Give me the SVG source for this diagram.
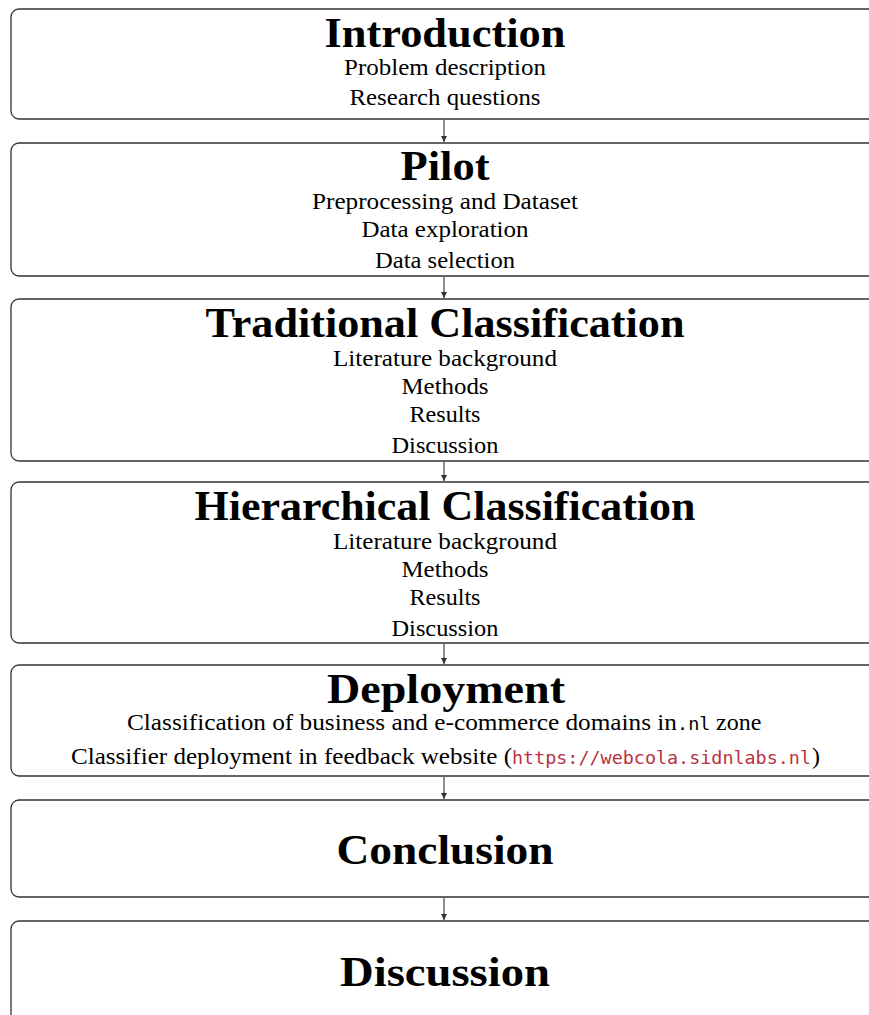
<svg xmlns="http://www.w3.org/2000/svg" width="869" height="1015" viewBox="0 0 869 1015">
<style>
.box{fill:#fff;stroke:#333;stroke-width:1.3}
.t{font-family:"Liberation Serif",serif;font-weight:bold;font-size:43px;fill:#000;text-anchor:middle}
.s{font-family:"Liberation Serif",serif;font-size:24px;fill:#000;text-anchor:middle}
.sl{font-family:"Liberation Serif",serif;font-size:24px;fill:#000}
.m{font-family:"DejaVu Sans Mono",monospace;font-size:18.5px}
.url{fill:#b8323f}
.c{stroke:#333;stroke-width:1.1;fill:none}
</style>
<defs>
<marker id="ah" markerWidth="8" markerHeight="8" refX="6" refY="4" orient="auto" markerUnits="userSpaceOnUse">
<path d="M0,1 L6,4 L0,7 Z" fill="#333"/>
</marker>
</defs>
<g id="connectors">
<line class="c" x1="444" y1="120" x2="444" y2="142" marker-end="url(#ah)"/>
<line class="c" x1="444" y1="277" x2="444" y2="298" marker-end="url(#ah)"/>
<line class="c" x1="444" y1="462" x2="444" y2="481" marker-end="url(#ah)"/>
<line class="c" x1="444" y1="644" x2="444" y2="664" marker-end="url(#ah)"/>
<line class="c" x1="444" y1="777" x2="444" y2="799" marker-end="url(#ah)"/>
<line class="c" x1="444" y1="898" x2="444" y2="920" marker-end="url(#ah)"/>
</g>
<g id="introduction">
<rect class="box" x="11" y="9" width="880" height="110" rx="8"/>
<text class="t" x="445" y="47" textLength="241" lengthAdjust="spacingAndGlyphs">Introduction</text>
<text class="s" x="445" y="75" textLength="202" lengthAdjust="spacingAndGlyphs">Problem description</text>
<text class="s" x="445" y="105" textLength="191" lengthAdjust="spacingAndGlyphs">Research questions</text>
</g>
<g id="pilot">
<rect class="box" x="11" y="143" width="880" height="133" rx="8"/>
<text class="t" x="445" y="180" textLength="89" lengthAdjust="spacingAndGlyphs">Pilot</text>
<text class="s" x="445" y="209" textLength="266" lengthAdjust="spacingAndGlyphs">Preprocessing and Dataset</text>
<text class="s" x="445" y="237" textLength="167" lengthAdjust="spacingAndGlyphs">Data exploration</text>
<text class="s" x="445" y="268" textLength="140" lengthAdjust="spacingAndGlyphs">Data selection</text>
</g>
<g id="traditional">
<rect class="box" x="11" y="299" width="880" height="162" rx="8"/>
<text class="t" x="445" y="337" textLength="479" lengthAdjust="spacingAndGlyphs">Traditional Classification</text>
<text class="s" x="445" y="366" textLength="224" lengthAdjust="spacingAndGlyphs">Literature background</text>
<text class="s" x="445" y="394" textLength="87" lengthAdjust="spacingAndGlyphs">Methods</text>
<text class="s" x="445" y="422" textLength="71" lengthAdjust="spacingAndGlyphs">Results</text>
<text class="s" x="445" y="453" textLength="107" lengthAdjust="spacingAndGlyphs">Discussion</text>
</g>
<g id="hierarchical">
<rect class="box" x="11" y="482" width="880" height="161" rx="8"/>
<text class="t" x="445" y="520" textLength="501" lengthAdjust="spacingAndGlyphs">Hierarchical Classification</text>
<text class="s" x="445" y="549" textLength="224" lengthAdjust="spacingAndGlyphs">Literature background</text>
<text class="s" x="445" y="577" textLength="87" lengthAdjust="spacingAndGlyphs">Methods</text>
<text class="s" x="445" y="605" textLength="71" lengthAdjust="spacingAndGlyphs">Results</text>
<text class="s" x="445" y="636" textLength="107" lengthAdjust="spacingAndGlyphs">Discussion</text>
</g>
<g id="deployment">
<rect class="box" x="11" y="665" width="880" height="111" rx="8"/>
<text class="t" x="446" y="703" textLength="238" lengthAdjust="spacingAndGlyphs">Deployment</text>
<text class="sl" y="730"><tspan x="127" textLength="550" lengthAdjust="spacingAndGlyphs">Classification of business and e-commerce domains in</tspan><tspan class="m" x="677">.nl</tspan><tspan x="710"> zone</tspan></text>
<text class="sl" y="764"><tspan x="71" textLength="441" lengthAdjust="spacingAndGlyphs">Classifier deployment in feedback website (</tspan><tspan class="m url" x="512" textLength="299" lengthAdjust="spacingAndGlyphs">https://webcola.sidnlabs.nl</tspan><tspan x="812">)</tspan></text>
</g>
<g id="conclusion">
<rect class="box" x="11" y="800" width="880" height="97" rx="8"/>
<text class="t" x="445" y="864" textLength="217" lengthAdjust="spacingAndGlyphs">Conclusion</text>
</g>
<g id="discussion">
<rect class="box" x="11" y="921" width="880" height="120" rx="8"/>
<text class="t" x="445" y="986" textLength="210" lengthAdjust="spacingAndGlyphs">Discussion</text>
</g>
</svg>
